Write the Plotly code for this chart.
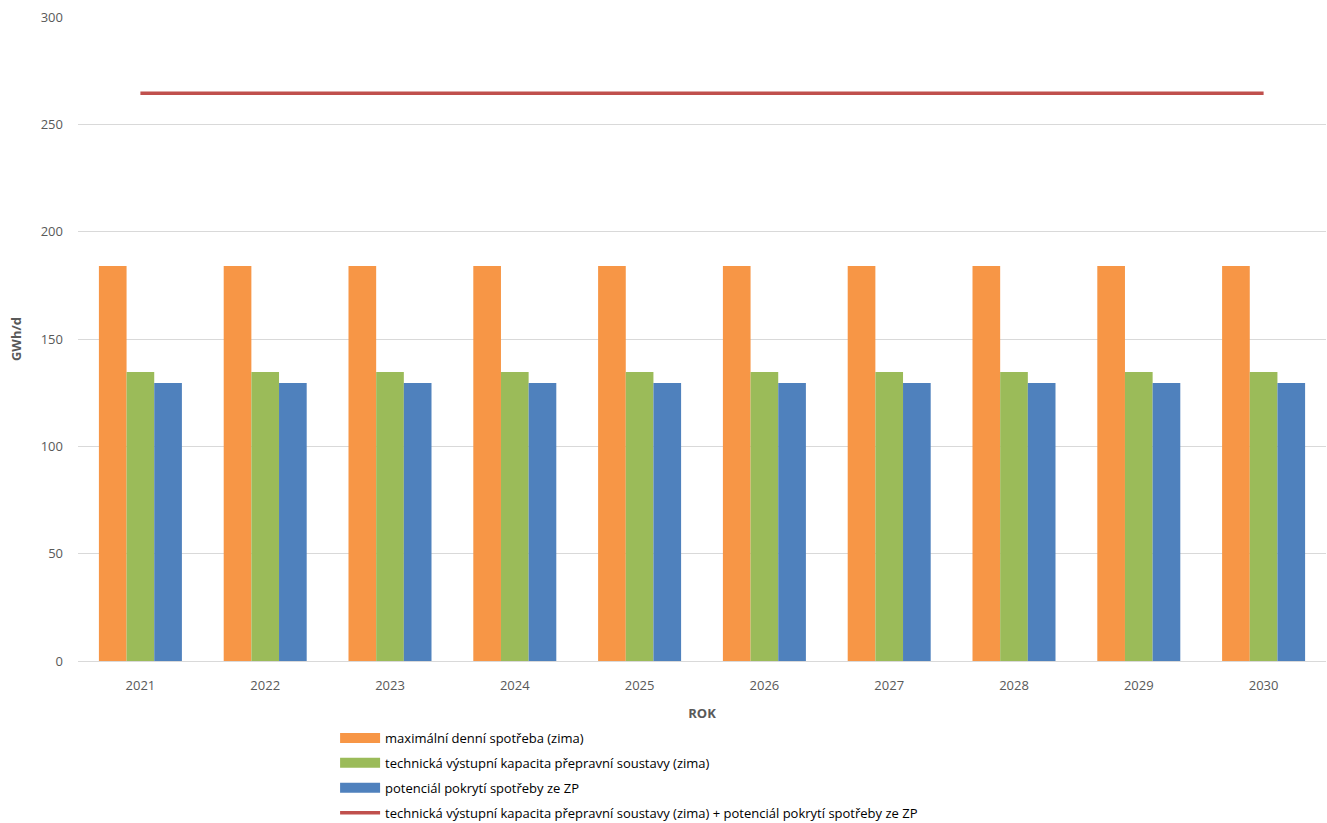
import plotly.graph_objects as go

years = ["2021", "2022", "2023", "2024", "2025", "2026", "2027", "2028", "2029", "2030"]
max_spotreba = [184, 184, 184, 184, 184, 184, 184, 184, 184, 184]
tech_kapacita = [134.6, 134.6, 134.6, 134.6, 134.6, 134.6, 134.6, 134.6, 134.6, 134.6]
potencial_zp = [129.5, 129.5, 129.5, 129.5, 129.5, 129.5, 129.5, 129.5, 129.5, 129.5]
soucet = [264.5, 264.5, 264.5, 264.5, 264.5, 264.5, 264.5, 264.5, 264.5, 264.5]

names = [
    "maximální denní spotřeba (zima)",
    "technická výstupní kapacita přepravní soustavy (zima)",
    "potenciál pokrytí spotřeby ze ZP",
    "technická výstupní kapacita přepravní soustavy (zima) + potenciál pokrytí spotřeby ze ZP",
]
colors = ["#F79646", "#9BBB59", "#4F81BD", "#C0504D"]

fig = go.Figure()
for vals, name, col in zip([max_spotreba, tech_kapacita, potencial_zp], names[:3], colors[:3]):
    fig.add_trace(go.Bar(x=years, y=vals, name=name, marker=dict(color=col, line=dict(width=0)),
                         showlegend=False))
fig.add_trace(go.Scatter(x=years, y=soucet, mode="lines", name=names[3],
                         line=dict(color=colors[3], width=3.5), showlegend=False))

# legend entries
for i, (name, col, w) in enumerate(zip(names, colors, [10, 10, 10, 3.5])):
    fig.add_trace(go.Scatter(x=[None], y=[None], mode="lines", name=name, legendgroup=f"g{i}",
                             line=dict(color=col, width=w), showlegend=True))

fig.update_layout(
    width=1327, height=823,
    margin=dict(l=78, r=1, t=17, b=162),
    paper_bgcolor="white", plot_bgcolor="white",
    font=dict(family="Open Sans", size=13, color="#595959"),
    barmode="group", bargap=0.335, bargroupgap=0,
    showlegend=True,
    legend=dict(x=0.206, y=0.1215, xref="paper", yref="container",
                xanchor="left", yanchor="top", orientation="v",
                font=dict(size=13, color="#000000"), tracegroupgap=5, itemwidth=40,
                bgcolor="rgba(0,0,0,0)"),
    xaxis=dict(title=dict(text="<b>ROK</b>", font=dict(size=13, color="#595959"), standoff=16),
               showgrid=False, showline=True, linecolor="#D9D9D9", linewidth=1,
               ticks="", ticklabelstandoff=12, tickfont=dict(size=13, color="#595959"),
               fixedrange=True),
    yaxis=dict(title=dict(text="<b>GWh/d</b>", font=dict(size=13, color="#595959"), standoff=16),
               range=[0, 300], dtick=50, showgrid=True, gridcolor="#D9D9D9", gridwidth=1,
               zeroline=False, showline=False, ticks="", ticklen=0, ticklabelstandoff=14,
               tickfont=dict(size=13, color="#595959")),
)

fig.write_html("out.html")
